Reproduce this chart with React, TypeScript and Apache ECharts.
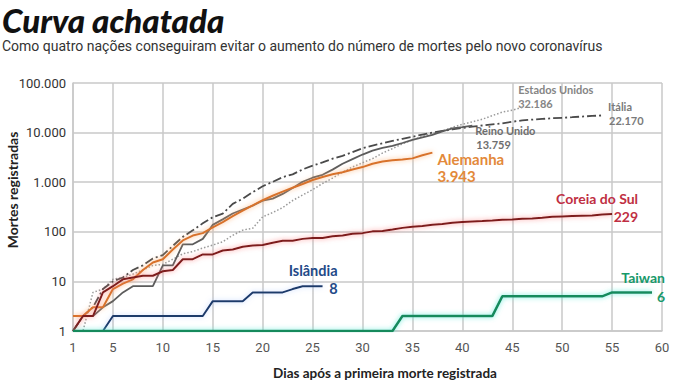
import React, { useEffect, useRef } from 'react';
import * as echarts from 'echarts';

// Tick labels
const xTicks = [1, 5, 10, 15, 20, 25, 30, 35, 40, 45, 50, 55, 60];
const yMin = 1;
const yMax = 100000;

// Deaths per day after the first registered death (day 1 = first element)
const estadosUnidos = [1, 1, 6, 7, 11, 12, 14, 17, 21, 22, 28, 36, 40, 47, 54, 63, 85, 108, 118, 200, 244, 307, 427, 552, 706, 942, 1209, 1581, 2026, 2467, 2978, 3873, 4757, 5926, 7087, 8407, 9619, 10783, 12722, 14695, 16478, 18586, 22020, 25832, 28326, 32186];
const italia = [1, 2, 3, 7, 10, 12, 17, 21, 29, 34, 52, 79, 107, 148, 197, 233, 366, 463, 631, 827, 1016, 1266, 1441, 1809, 2158, 2503, 2978, 3405, 4032, 4825, 5476, 6077, 6820, 7503, 8215, 9134, 10023, 10779, 11591, 12428, 13155, 13915, 14681, 15362, 16523, 17669, 18279, 18849, 19468, 19899, 20465, 21067, 21645, 22170];
const reinoUnido = [1, 2, 2, 3, 4, 6, 8, 8, 8, 21, 21, 56, 56, 72, 138, 178, 234, 282, 336, 423, 466, 580, 761, 1021, 1231, 1411, 1793, 2357, 2926, 3611, 4320, 4943, 5385, 6171, 7111, 7993, 8974, 10629, 12107, 12868, 13759];
const alemanha = [2, 2, 3, 3, 7, 9, 11, 17, 24, 28, 44, 67, 84, 94, 123, 157, 206, 267, 342, 433, 533, 645, 775, 920, 1107, 1275, 1444, 1584, 1810, 2016, 2349, 2607, 2767, 2873, 3022, 3495, 3943];
const coreiaDoSul = [1, 2, 2, 6, 8, 11, 12, 13, 13, 16, 17, 28, 28, 35, 35, 42, 44, 50, 53, 54, 60, 66, 66, 72, 75, 75, 81, 84, 91, 94, 102, 104, 111, 120, 126, 131, 139, 144, 152, 158, 162, 165, 169, 174, 177, 183, 186, 192, 200, 204, 208, 211, 214, 222, 229];
const islandia = [null, null, null, 1, 2, 2, 2, 2, 2, 2, 2, 2, 2, 2, 4, 4, 4, 4, 6, 6, 6, 6, 7, 8, 8, 8];
const taiwan = [1, 1, 1, 1, 1, 1, 1, 1, 1, 1, 1, 1, 1, 1, 1, 1, 1, 1, 1, 1, 1, 1, 1, 1, 1, 1, 1, 1, 1, 1, 1, 1, 1, 2, 2, 2, 2, 2, 2, 2, 2, 2, 2, 5, 5, 5, 5, 5, 5, 5, 5, 5, 5, 5, 6, 6, 6, 6, 6];

const fmt = (v: number) => String(v).replace(/\B(?=(\d{3})+(?!\d))/g, '.');
const toPairs = (arr: (number | null)[]) =>
  arr.map((v, i) => [i + 1, v]).filter((p) => p[1] !== null);

const FONT = 'Roboto, "Noto Sans", sans-serif';
const BOLD = 'Lato, "Noto Sans", sans-serif';

type Def = {
  name: string;
  data: (number | null)[];
  color: string;
  width: number;
  type: any;
  glow?: string;
  labelColor: string;
  size: number;
  align: 'left' | 'right';
  nx: number; ny: number; vx: number; vy: number;
};

const defs: Def[] = [
  { name: 'Estados Unidos', data: estadosUnidos, color: '#9a9a9a', width: 1.5, type: [1.5, 2], labelColor: '#858585', size: 11, align: 'left', nx: -4, ny: -18, vx: -4, vy: -4 },
  { name: 'Itália', data: italia, color: '#4a4a4a', width: 1.8, type: [9, 3, 2, 3], labelColor: '#7a7a7a', size: 11, align: 'left', nx: 6, ny: -9, vx: 7, vy: 5 },
  { name: 'Reino Unido', data: reinoUnido, color: '#5c5c5c', width: 1.8, type: 'solid', labelColor: '#6e6e6e', size: 11, align: 'left', nx: 3, ny: 5, vx: 4, vy: 19 },
  { name: 'Alemanha', data: alemanha, color: '#d8722c', width: 2, type: 'solid', glow: 'rgba(255,175,110,0.9)', labelColor: '#e3893a', size: 15, align: 'left', nx: 5, ny: 6, vx: 5, vy: 23 },
  { name: 'Coreia do Sul', data: coreiaDoSul, color: '#7d1c1c', width: 2, type: 'solid', glow: 'rgba(255,120,120,0.8)', labelColor: '#bf2f43', size: 14, align: 'right', nx: 26, ny: -15, vx: 26, vy: 3 },
  { name: 'Islândia', data: islandia, color: '#1d3a6b', width: 2, type: 'solid', glow: 'rgba(140,180,255,0.5)', labelColor: '#1f4a88', size: 14.5, align: 'right', nx: 15, ny: -16, vx: 15, vy: 2 },
  { name: 'Taiwan', data: taiwan, color: '#138a5c', width: 2.5, type: 'solid', glow: 'rgba(90,235,215,0.9)', labelColor: '#17996a', size: 14, align: 'right', nx: 13, ny: -15, vx: 13, vy: 4 },
];

export default function App() {
  const ref = useRef<HTMLDivElement>(null);

  useEffect(() => {
    const chart = echarts.init(ref.current!, null, { renderer: 'svg' });
    const gridColor = '#c8c8c8';
    chart.setOption({
      animation: false,
      backgroundColor: '#ffffff',
      grid: { left: 73, right: 13, top: 83, bottom: 61, containLabel: false, outerBoundsMode: 'none' },
      xAxis: {
        type: 'value',
        min: 1,
        max: 60,
        axisLine: { show: true, lineStyle: { color: gridColor, width: 1.5 } },
        axisTick: { show: false, customValues: xTicks },
        axisLabel: {
          customValues: xTicks,
          color: '#555',
          fontFamily: FONT,
          fontSize: 13,
          margin: 10,
        },
        splitLine: { show: true, lineStyle: { color: gridColor, width: 1.5 } },
      },
      yAxis: {
        type: 'log',
        logBase: 10,
        min: yMin,
        max: yMax,
        axisLine: { show: true, lineStyle: { color: gridColor, width: 1.5 } },
        axisTick: { show: false },
        axisLabel: {
          formatter: (v: number) => fmt(v),
          color: '#333',
          fontFamily: FONT,
          fontSize: 13,
          margin: 7,
        },
        splitLine: { show: true, lineStyle: { color: gridColor, width: 1.5 } },
      },
      series: defs.map((d) => ({
        name: d.name,
        type: 'line',
        data: toPairs(d.data),
        symbol: 'none',
        showSymbol: false,
        silent: true,
        emphasis: { disabled: true },
        lineStyle: {
          color: d.color,
          width: d.width,
          type: d.type,
          shadowColor: d.glow || 'rgba(0,0,0,0)',
          shadowBlur: d.glow ? 5 : 0,
        },
        itemStyle: { color: d.color },
      })),
    });

    const graphics: any[] = [
      {
        type: 'text', x: 2, y: 3,
        style: { text: 'Curva achatada', fill: '#111', fontFamily: BOLD, fontSize: 33, fontWeight: 900, fontStyle: 'italic', align: 'left', verticalAlign: 'top' },
      },
      {
        type: 'text', x: 2, y: 39,
        style: { text: 'Como quatro nações conseguiram evitar o aumento do número de mortes pelo novo coronavírus', fill: '#333', fontFamily: FONT, fontSize: 14, align: 'left', verticalAlign: 'top' },
      },
      {
        type: 'text', x: 12, y: 190, rotation: Math.PI / 2,
        style: { text: 'Mortes registradas', fill: '#222', fontFamily: BOLD, fontSize: 14, fontWeight: 'bold', align: 'center', verticalAlign: 'middle' },
      },
      {
        type: 'text', x: 385, y: 373,
        style: { text: 'Dias após a primeira morte registrada', fill: '#222', fontFamily: BOLD, fontSize: 13.5, fontWeight: 'bold', align: 'center', verticalAlign: 'middle' },
      },
    ];

    defs.forEach((d) => {
      const idx = d.data.length - 1;
      const last = d.data[idx] as number;
      const p = chart.convertToPixel({ gridIndex: 0 }, [idx + 1, last]) as number[];
      graphics.push({
        type: 'text', x: p[0] + d.nx, y: p[1] + d.ny,
        style: { text: d.name, fill: d.labelColor, fontFamily: BOLD, fontSize: d.size, fontWeight: 'bold', align: d.align, verticalAlign: 'middle' },
      });
      graphics.push({
        type: 'text', x: p[0] + d.vx, y: p[1] + d.vy,
        style: { text: fmt(last), fill: d.labelColor, fontFamily: BOLD, fontSize: d.size, fontWeight: 'bold', align: d.align, verticalAlign: 'middle' },
      });
    });

    chart.setOption({ graphic: graphics });
    return () => chart.dispose();
  }, []);

  return <div ref={ref} style={{ position: 'fixed', left: 0, top: 0, width: 675, height: 392 }} />;
}
